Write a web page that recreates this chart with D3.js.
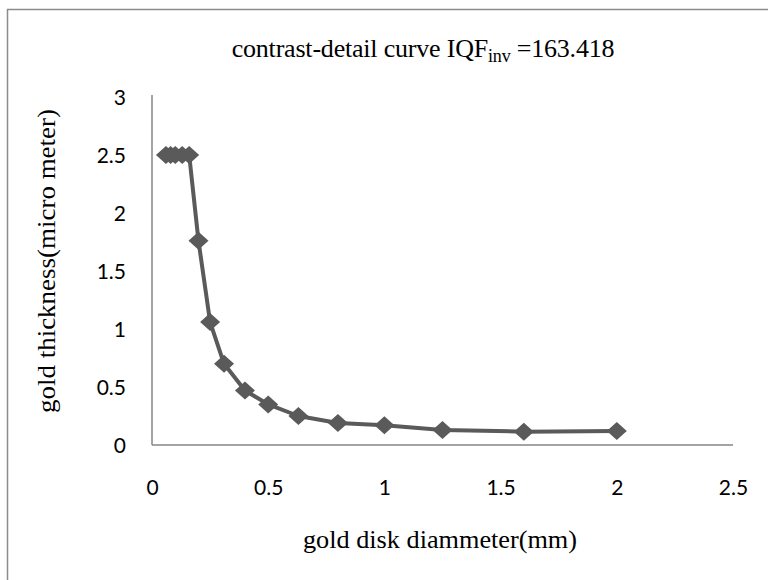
<!DOCTYPE html>
<html>
<head>
<meta charset="utf-8">
<script src="https://d3js.org/d3.v7.min.js"></script>
<style>
  html, body { margin: 0; padding: 0; background: #fff; }
  svg { display: block; }
</style>
</head>
<body>
<svg id="chart" width="768" height="580"></svg>
<script>
// ---- data ----
const diameters = [0.06, 0.08, 0.10, 0.13, 0.16, 0.20, 0.25, 0.31, 0.40, 0.50, 0.63, 0.80, 1.00, 1.25, 1.60, 2.00];
const thickness = [2.5, 2.5, 2.5, 2.5, 2.5, 1.76, 1.06, 0.70, 0.47, 0.35, 0.25, 0.19, 0.17, 0.13, 0.115, 0.12];
const xTicks = [0, 0.5, 1, 1.5, 2, 2.5];
const yTicks = [0, 0.5, 1, 1.5, 2, 2.5, 3];
const titleMain = "contrast-detail curve IQF";
const titleSub = "inv";
const titleTail = " =163.418";
const xLabel = "gold disk diammeter(mm)";
const yLabel = "gold thickness(micro meter)";

const svg = d3.select("#chart");
const pLeft = 152, pRight = 733, pTop = 97, pBottom = 445;
const x = d3.scaleLinear().domain([0, 2.5]).range([pLeft, pRight]);
const y = d3.scaleLinear().domain([0, 3]).range([pBottom, pTop]);

// outer frame
svg.append("rect").attr("x", 7.5).attr("y", 9.5).attr("width", 800).attr("height", 600)
  .attr("fill", "#fff").attr("stroke", "#8c8c8c").attr("stroke-width", 1.5);

const serif = "Liberation Serif, serif";

// title
const t = svg.append("text").attr("x", 423).attr("y", 57).attr("text-anchor", "middle")
  .attr("font-family", serif).attr("font-size", 26).attr("fill", "#000")
  .attr("letter-spacing", -0.2);
t.append("tspan").text(titleMain);
t.append("tspan").attr("font-size", 18).attr("dy", 5).text(titleSub);
t.append("tspan").attr("dy", -5).text(titleTail);

// axes lines
svg.append("line").attr("x1", pLeft).attr("x2", pLeft).attr("y1", pTop - 2).attr("y2", pBottom)
  .attr("stroke", "#868686").attr("stroke-width", 1.5);
svg.append("line").attr("x1", pLeft).attr("x2", pRight).attr("y1", pBottom).attr("y2", pBottom)
  .attr("stroke", "#868686").attr("stroke-width", 1.5);

// tick labels via axes (no tick marks)
const xAxis = d3.axisBottom(x).tickValues(xTicks).tickSize(0).tickPadding(0).tickFormat(d3.format("~g"));
const gx = svg.append("g").attr("transform", `translate(0,${pBottom})`).call(xAxis);
gx.select(".domain").remove();
gx.selectAll("text").attr("y", 50).attr("dy", 0)
  .attr("font-family", "Lato, Carlito, sans-serif").attr("font-size", 21).attr("fill", "#000");

const yAxis = d3.axisLeft(y).tickValues(yTicks).tickSize(0).tickPadding(0).tickFormat(d3.format("~g"));
const gy = svg.append("g").attr("transform", `translate(126,0)`).call(yAxis);
gy.select(".domain").remove();
gy.selectAll("text").attr("x", 0).attr("dy", "0.35em")
  .attr("font-family", "Lato, Carlito, sans-serif").attr("font-size", 21).attr("fill", "#000");

// axis titles
svg.append("text").attr("x", 440).attr("y", 548).attr("text-anchor", "middle")
  .attr("font-family", serif).attr("font-size", 25).attr("fill", "#000")
  .attr("textLength", 274).attr("lengthAdjust", "spacingAndGlyphs")
  .text(xLabel);
svg.append("text").attr("transform", "translate(55,261) rotate(-90)").attr("text-anchor", "middle")
  .attr("font-family", serif).attr("font-size", 26).attr("fill", "#000")
  .attr("textLength", 304).attr("lengthAdjust", "spacingAndGlyphs")
  .text(yLabel);

// series
const pts = diameters.map((d, i) => [d, thickness[i]]);
const color = "#5a5a5a";
svg.append("path").datum(pts)
  .attr("d", d3.line().x(d => x(d[0])).y(d => y(d[1])))
  .attr("fill", "none").attr("stroke", color).attr("stroke-width", 4).attr("stroke-linejoin", "round");

const diamond = "M0,-9L10,0L0,9L-10,0Z";
svg.append("g").selectAll("path").data(pts).join("path")
  .attr("transform", d => `translate(${x(d[0])},${y(d[1])})`)
  .attr("d", diamond).attr("fill", color);
</script>
</body>
</html>
